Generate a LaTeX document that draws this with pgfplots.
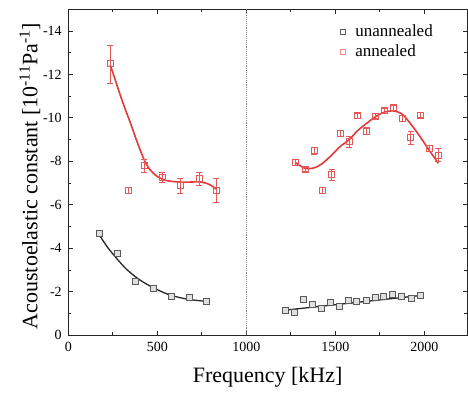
\documentclass[border=0pt]{standalone}
\usepackage{fontspec}
\setmainfont{Liberation Serif}
\usepackage{pgfplots}
\pgfplotsset{compat=1.18}
\definecolor{myred}{RGB}{226,58,58}
\definecolor{mysq}{RGB}{90,90,90}
\begin{document}
\begin{tikzpicture}
\begin{axis}[
 scale only axis, width=399pt, height=326pt,
 xmin=0, xmax=2240, ymin=-15, ymax=0, y dir=reverse,
 xtick={0,500,1000,1500,2000}, minor x tick num=1,
 ytick={-14,-12,-10,-8,-6,-4,-2,0}, minor y tick num=1,
 /pgf/number format/assume math mode=true,
 /pgf/number format/1000 sep={},
 tick label style={font=\fontsize{14}{16}\selectfont},
 xticklabel style={yshift=-4pt},
 yticklabel style={xshift=-3pt},
 label style={font=\fontsize{22}{24}\selectfont},
 xlabel={Frequency [kHz]},
 ylabel={Acoustoelastic constant [10\textsuperscript{-11}Pa\textsuperscript{-1}]},
 every axis x label/.append style={yshift=-8pt},
 every axis y label/.append style={xshift=-4pt, yshift=-4pt},
 axis line style={line width=0.9pt, black!85},
 every tick/.style={black!85, line width=0.8pt},
 legend style={at={(0.675,0.965)}, anchor=north west, draw=none, fill=none,
   font=\fontsize{17}{19}\selectfont, row sep=3pt,
   /tikz/every odd column/.append style={column sep=8pt}},
 legend cell align=left,
]
\addlegendimage{only marks, mark=square, mark size=2.4pt, mysq, mark options={line width=0.6pt}}
\addlegendentry{unannealed}
\addlegendimage{only marks, mark=square, mark size=2.4pt, myred!60, mark options={line width=0.6pt}}
\addlegendentry{annealed}

% dotted separator
\addplot[forget plot, gray, densely dotted, line width=0.9pt] coordinates {(1000,0) (1000,-15)};

% black fits
\addplot[forget plot, black!85, line width=1.3pt, smooth] coordinates {
(174,-4.62) (220,-4.05) (275,-3.5) (325,-3.05) (375,-2.7) (425,-2.42) (478,-2.18)
(530,-1.98) (577,-1.83) (630,-1.72) (678,-1.64) (730,-1.59) (777,-1.55)};
\addplot[forget plot, black!85, line width=1.3pt] coordinates {(1220,-1.15) (1976,-1.82)};

% red fits
\addplot[forget plot, myred, line width=1.6pt, smooth] coordinates {
(235,-12.45) (260,-11.85) (290,-11.1) (320,-10.4) (350,-9.75) (380,-9.05) (405,-8.5)
(425,-8.1) (450,-7.72) (478,-7.45) (510,-7.25) (550,-7.12) (600,-7.06) (650,-7.04)
(700,-7.05) (740,-7.05) (780,-6.98) (810,-6.85) (830,-6.72)};
\addplot[forget plot, myred, line width=1.6pt, smooth] coordinates {
(1278,-7.93) (1330,-7.68) (1381,-7.7) (1427,-7.9) (1480,-8.29) (1527,-8.68)
(1577,-8.99) (1624,-9.4) (1676,-9.75) (1727,-10.06) (1774,-10.26) (1826,-10.32)
(1876,-10.17) (1924,-9.72) (1976,-9.14) (2026,-8.53) (2079,-7.91)};

% unannealed data
\addplot[forget plot, only marks, mark=square*, mark size=3pt, draw=mysq, fill=gray!25, mark options={line width=0.7pt}] coordinates {
(174,-4.69) (275,-3.76) (375,-2.46) (478,-2.15) (577,-1.77) (678,-1.74) (777,-1.54)
(1220,-1.12) (1271,-1.05) (1318,-1.66) (1374,-1.41) (1421,-1.23) (1473,-1.49)
(1524,-1.34) (1574,-1.61) (1621,-1.54) (1673,-1.61) (1724,-1.74) (1772,-1.77)
(1823,-1.87) (1873,-1.77) (1925,-1.69) (1976,-1.81)};

% annealed data
\addplot[forget plot, only marks, mark=square, mark size=3pt, myred!85, mark options={line width=0.7pt},
  error bars/.cd, y dir=both, y explicit,
  error bar style={myred!85, line width=0.7pt}, error mark options={rotate=90, mark size=3pt, myred!85}]
 table[x=x, y=y, y error=e] {
x y e
235 -12.49 0.87
337 -6.68 0.15
425 -7.80 0.3
528 -7.27 0.25
628 -6.88 0.35
734 -7.22 0.3
830 -6.68 0.55
1278 -7.96 0.15
1330 -7.63 0.1
1381 -8.49 0.15
1427 -6.68 0.15
1480 -7.40 0.25
1527 -9.29 0.15
1577 -8.91 0.25
1624 -10.10 0.12
1676 -9.40 0.15
1727 -10.09 0.12
1774 -10.34 0.12
1826 -10.48 0.12
1876 -9.99 0.12
1924 -9.11 0.3
1976 -10.14 0.12
2026 -8.60 0.15
2079 -8.29 0.3
};
\coordinate (bl) at (axis cs:0,0);
\coordinate (tr) at (axis cs:2240,-15);
\end{axis}
\pgfresetboundingbox
\path[use as bounding box] ([xshift=-68.3pt,yshift=-59pt]bl) rectangle ([xshift=1pt,yshift=9.3pt]tr);
\end{tikzpicture}
\end{document}
